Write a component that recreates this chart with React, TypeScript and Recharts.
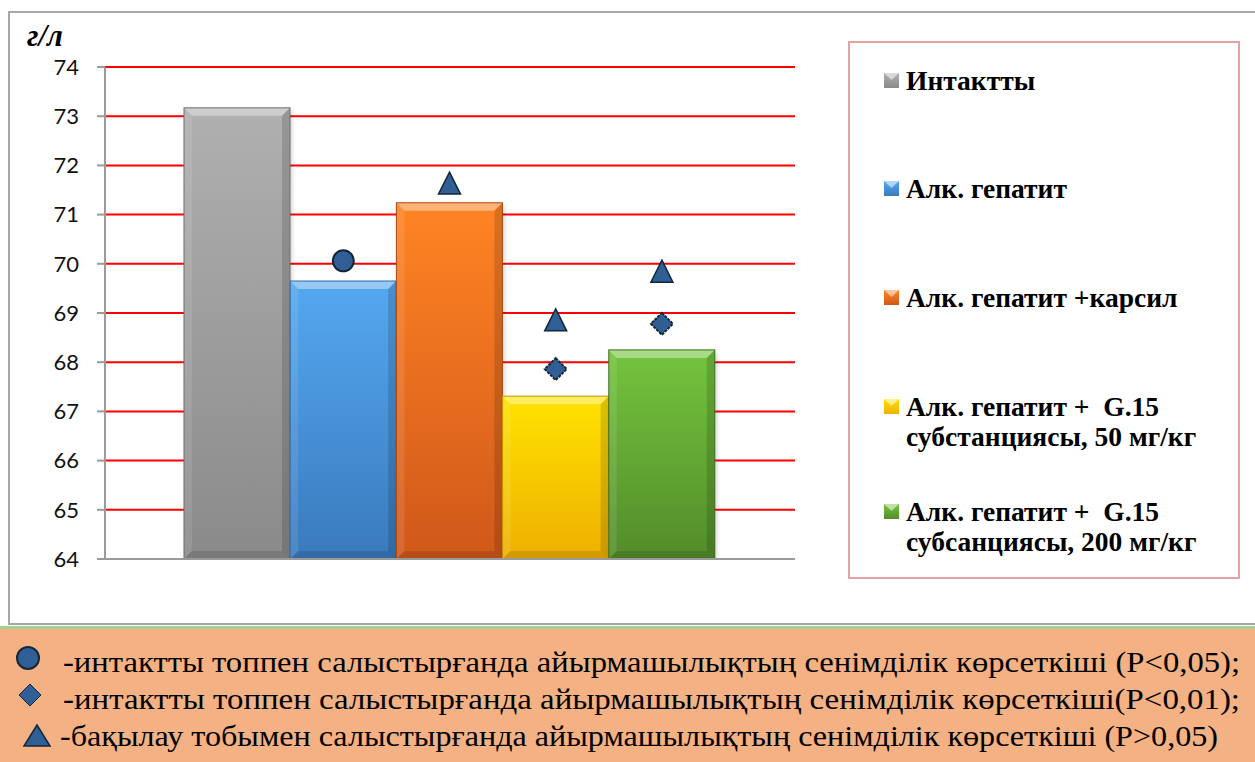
import React from "react";
import {
  ComposedChart,
  Bar,
  Cell,
  Scatter,
  XAxis,
  YAxis,
  CartesianGrid,
} from "recharts";

// Groups and their mean protein values (г/л)
const groups = [
  "Интактты",
  "Алк. гепатит",
  "Алк. гепатит +карсил",
  "Алк. гепатит +  G.15 субстанциясы, 50 мг/кг",
  "Алк. гепатит +  G.15 субсанциясы, 200 мг/кг",
];
const groupLegendLines = [
  ["Интактты"],
  ["Алк. гепатит"],
  ["Алк. гепатит +карсил"],
  ["Алк. гепатит +  G.15", "субстанциясы, 50 мг/кг"],
  ["Алк. гепатит +  G.15", "субсанциясы, 200 мг/кг"],
];
const values = [73.17, 69.65, 71.24, 67.31, 68.25];

// Significance markers (null = no marker for that group)
const circleMarks = [null, 70.06, null, null, null];
const diamondMarks = [null, null, null, 67.86, 68.78];
const triangleMarks = [null, null, 71.62, 68.84, 69.83];

const yTicks = [64, 65, 66, 67, 68, 69, 70, 71, 72, 73, 74];

const notes = [
  "-интактты топпен салыстырғанда айырмашылықтың сенімділік көрсеткіші (P<0,05);",
  "-интактты топпен салыстырғанда айырмашылықтың сенімділік көрсеткіші(P<0,01);",
  "-бақылау тобымен салыстырғанда айырмашылықтың сенімділік көрсеткіші (P>0,05)",
];

const barTop = ["#b0b0b0", "#55a8f0", "#ff8424", "#ffe200", "#74c43e"];
const barBottom = ["#8a8a8a", "#3a7abd", "#d0581a", "#eeb000", "#538c2a"];
const barEdge = ["#6e6e6e", "#2f6aa5", "#a84612", "#c89400", "#3f6e20"];

const markFill = "#305f95";
const markStroke = "#15263a";

const rows = groups.map((g, i) => ({
  name: g,
  value: values[i],
  circle: circleMarks[i],
  diamond: diamondMarks[i],
  triangle: triangleMarks[i],
}));

const BevelBar = (props: any) => {
  const { x, y, width, height, index } = props;
  if (!height || height <= 0) return null;
  const b = 8;
  const x2 = x + width;
  const y2 = y + height;
  return (
    <g>
      <rect x={x + 2} y={y + 3} width={width} height={height} fill="rgba(0,0,0,0.18)" filter="url(#barShadow)" />
      <rect x={x} y={y} width={width} height={height} fill={`url(#barGrad${index})`} />
      <polygon points={`${x},${y} ${x2},${y} ${x2 - b},${y + b} ${x + b},${y + b}`} fill="rgba(255,255,255,0.38)" />
      <polygon points={`${x},${y} ${x + b},${y + b} ${x + b},${y2 - b} ${x},${y2}`} fill="rgba(255,255,255,0.10)" />
      <polygon points={`${x2},${y} ${x2},${y2} ${x2 - b},${y2 - b} ${x2 - b},${y + b}`} fill="rgba(0,0,0,0.14)" />
      <polygon points={`${x},${y2} ${x + b},${y2 - b} ${x2 - b},${y2 - b} ${x2},${y2}`} fill="rgba(0,0,0,0.12)" />
      <rect x={x} y={y} width={width} height={height} fill="none" stroke={barEdge[index]} strokeWidth={1} />
    </g>
  );
};

const isPoint = (p: any) =>
  p && typeof p.cx === "number" && typeof p.cy === "number" && !isNaN(p.cx) && !isNaN(p.cy);

const CircleMark = (p: any) => {
  if (!isPoint(p) || p.payload?.circle == null) return <g />;
  return <circle cx={p.cx} cy={p.cy} r={10.5} fill={markFill} stroke={markStroke} strokeWidth={2} />;
};

const DiamondMark = (p: any) => {
  if (!isPoint(p) || p.payload?.diamond == null) return <g />;
  const s = 11;
  const { cx, cy } = p;
  return (
    <polygon
      points={`${cx},${cy - s} ${cx + s},${cy} ${cx},${cy + s} ${cx - s},${cy}`}
      fill={markFill}
      stroke={markStroke}
      strokeWidth={2}
      strokeDasharray="3 1"
    />
  );
};

const TriangleMark = (p: any) => {
  if (!isPoint(p) || p.payload?.triangle == null) return <g />;
  const { cx, cy } = p;
  return (
    <polygon
      points={`${cx},${cy - 12} ${cx + 11},${cy + 10} ${cx - 11},${cy + 10}`}
      fill={markFill}
      stroke={markStroke}
      strokeWidth={1.5}
    />
  );
};

// baseline (page y) of the first line of each legend entry
const legendBaselines = [90, 198, 307, 416, 521];
const legendLineGap = 30;

const GroupLegend = () => (
  <svg width={1255} height={626} style={{ position: "absolute", left: 0, top: 0, pointerEvents: "none" }}>
    <defs>
      {barTop.map((c, i) => (
        <linearGradient key={i} id={`lg${i}`} x1="0" y1="0" x2="0" y2="1">
          <stop offset="0" stopColor={c} />
          <stop offset="1" stopColor={barBottom[i]} />
        </linearGradient>
      ))}
    </defs>
    <rect x={849} y={42} width={390} height={536} fill="#fff" stroke="#e3a3a3" strokeWidth={2} />
    {groupLegendLines.map((lines, i) => {
      const b = legendBaselines[i];
      return (
        <g key={i}>
          <rect x={884} y={b - 17} width={15} height={15} fill={`url(#lg${i})`} />
          <polygon points={`884,${b - 17} 899,${b - 17} 891.5,${b - 10}`} fill="rgba(255,255,255,0.55)" />
          {lines.map((l, k) => (
            <text
              key={k}
              x={906}
              y={b + k * legendLineGap}
              fontFamily="'Liberation Serif', 'Times New Roman', serif"
              fontWeight="bold"
              fontSize={27.5}
              fill="#000"
              style={{ whiteSpace: "pre" }}
            >
              {l}
            </text>
          ))}
        </g>
      );
    })}
  </svg>
);

// horizontal extents of each note line
const noteX = [63, 63, 60];
const noteEnd = [1240, 1240, 1218];
const noteBaseline = [672, 709, 746];

const Notes = () => (
  <svg width={1255} height={136} style={{ position: "absolute", left: 0, top: 626 }}>
    <rect x={0} y={0} width={1255} height={136} fill="#f4b183" />
    <rect x={0} y={0} width={1255} height={3} fill="#a9d18e" />
    <circle cx={28} cy={32} r={11} fill={markFill} stroke={markStroke} strokeWidth={2} />
    <polygon points="30,58 41,69 30,80 19,69" fill={markFill} stroke={markStroke} strokeWidth={1} />
    <polygon points="37,99 50,120 24,120" fill={markFill} stroke={markStroke} strokeWidth={1.5} />
    {notes.map((n, i) => (
      <text
        key={i}
        x={noteX[i]}
        y={noteBaseline[i] - 626}
        fontFamily="'Liberation Serif', 'Times New Roman', serif"
        fontSize={30}
        fill="#000"
        textLength={noteEnd[i] - noteX[i]}
        lengthAdjust="spacingAndGlyphs"
      >
        {n}
      </text>
    ))}
  </svg>
);

export default function App() {
  return (
    <div
      style={{
        position: "absolute",
        left: 0,
        top: 0,
        width: 1255,
        height: 762,
        background: "#fff",
        overflow: "hidden",
      }}
    >
      {/* chart frame */}
      <div
        style={{
          position: "absolute",
          left: 8,
          top: 11,
          width: 1260,
          height: 614,
          border: "2px solid #a6a6a6",
          boxSizing: "border-box",
        }}
      />
      <div
        style={{
          position: "absolute",
          left: 27,
          top: 18,
          fontFamily: "'Liberation Serif', serif",
          fontStyle: "italic",
          fontWeight: "bold",
          fontSize: 31,
        }}
      >
        г/л
      </div>

      <div style={{ position: "absolute", left: 0, top: 0 }}>
        <ComposedChart
          width={1255}
          height={626}
          data={rows}
          margin={{ top: 67, right: 460, bottom: 59, left: 45 }}
          barCategoryGap={0}
        >
          <defs>
            {barTop.map((c, i) => (
              <linearGradient key={i} id={`barGrad${i}`} x1="0" y1="0" x2="0" y2="1">
                <stop offset="0" stopColor={c} />
                <stop offset="1" stopColor={barBottom[i]} />
              </linearGradient>
            ))}
            <filter id="barShadow" x="-10%" y="-10%" width="130%" height="130%">
              <feGaussianBlur stdDeviation="2" />
            </filter>
          </defs>
          <CartesianGrid vertical={false} stroke="#ff0000" strokeWidth={2} />
          <XAxis
            dataKey="name"
            height={8}
            tick={false}
            tickLine={false}
            axisLine={{ stroke: "#9a9a9a", strokeWidth: 2 }}
            padding={{ left: 79, right: 80 }}
          />
          <YAxis
            width={60}
            domain={[64, 74]}
            ticks={yTicks}
            interval={0}
            allowDataOverflow
            axisLine={{ stroke: "#9a9a9a", strokeWidth: 2 }}
            tickLine={{ stroke: "#9a9a9a", strokeWidth: 2 }}
            tickSize={8}
            tickMargin={18}
            tick={{ fill: "#111", fontSize: 22, fontFamily: "Lato, 'Open Sans', sans-serif" }}
          />
          <Bar dataKey="value" isAnimationActive={false} shape={<BevelBar />}>
            {rows.map((r, i) => (
              <Cell key={r.name} fill={barTop[i]} />
            ))}
          </Bar>
          <Scatter dataKey="circle" isAnimationActive={false} shape={<CircleMark />} />
          <Scatter dataKey="diamond" isAnimationActive={false} shape={<DiamondMark />} />
          <Scatter dataKey="triangle" isAnimationActive={false} shape={<TriangleMark />} />
        </ComposedChart>
      </div>

      <GroupLegend />
      <Notes />
    </div>
  );
}
